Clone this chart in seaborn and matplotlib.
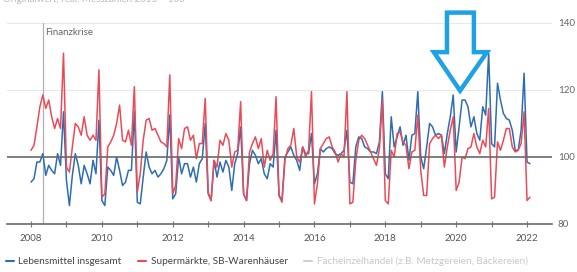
import numpy as np
import pandas as pd
import matplotlib
matplotlib.use("Agg")
import matplotlib.pyplot as plt
import seaborn as sns
from matplotlib.lines import Line2D
from matplotlib.patches import Polygon

# monthly index values (2015 = 100), Jan 2008 .. Feb 2022
lebensmittel = [
    92.5, 93.5, 98.5, 98.5, 101, 94.5, 97.5, 96, 95, 101, 97.5, 113.5,      # 2008
    93, 85.5, 94.5, 101, 97.5, 92, 97.5, 95, 92, 99, 95, 111,               # 2009
    87, 85.5, 97, 96, 94.5, 100, 96, 91.5, 92.5, 96, 96, 113.5,             # 2010
    86.5, 86, 94, 101.5, 97, 95, 96, 94, 95, 96.5, 99, 112.5,               # 2011
    87.5, 89, 100, 95, 98, 98, 94, 97, 92.5, 98, 99.5, 110,                 # 2012
    89, 87, 99, 94, 98.5, 95.5, 99, 97, 90, 98, 101, 109,                   # 2013
    89, 87, 98, 102, 100.5, 98, 99.5, 95, 93.5, 98, 97, 108,                # 2014
    88.5, 87, 100, 101.5, 103, 100.5, 99, 96, 103, 101, 101, 107,           # 2015
    92, 95, 102.5, 101.5, 102.5, 103, 102.5, 101, 100.5, 101, 102, 108,     # 2016
    92.5, 92, 103, 106, 105.5, 103, 102.5, 101.5, 101.5, 101, 104.5, 119.5, # 2017
    95, 93.5, 112, 103, 106, 109, 103.5, 106.5, 99, 106.5, 107, 119.5,      # 2018
    100, 96.5, 103, 110, 109, 106.5, 107, 106.5, 101, 107, 112, 118.5,      # 2019
    101.5, 109, 117, 117, 115, 109, 112, 107, 105, 115, 112.5, 131,         # 2020
    104, 103, 122, 117, 113, 111.5, 111, 108, 102, 102, 108, 125,           # 2021
    98.5, 98,                                                               # 2022
]
supermaerkte = [
    102, 103.5, 109, 115, 118.5, 114.5, 117, 112, 108.5, 111.5, 108.5, 131, # 2008
    97, 95.5, 103, 110, 109, 106.5, 112, 106.5, 105, 106.5, 105, 126,       # 2009
    88, 89, 103, 104.5, 106.5, 110, 115.5, 105, 104.5, 108, 103.5, 121,     # 2010
    89.5, 95, 105, 111, 111.5, 108, 108.5, 106.5, 104.5, 104, 103, 124.5,   # 2011
    89, 91.5, 105.5, 102.5, 108.5, 109, 105, 106.5, 99.5, 104, 104, 117.5,  # 2012
    89.5, 87, 99, 97, 105, 103.5, 107, 105, 97, 101.5, 102, 116.5,          # 2013
    89, 87, 101.5, 104, 106, 102.5, 105.5, 97, 102, 99, 101, 118,           # 2014
    88.5, 86.5, 99, 102.5, 103.5, 108.5, 100, 98.5, 103, 100, 102, 119.5,   # 2015
    86, 92, 102.5, 104, 105.5, 106, 103, 101.5, 98.5, 101, 100, 119.5,      # 2016
    86, 86.5, 99, 105, 106.5, 105.5, 103.5, 101.5, 99.5, 97.5, 102.5, 117,  # 2017
    87, 86, 102, 100, 107, 107.5, 104.5, 103.5, 96.5, 101.5, 102, 112.5,    # 2018
    96, 88.5, 88.5, 104, 105.5, 106.5, 105.5, 106.5, 97, 103, 108, 112,     # 2019
    90, 92.5, 100, 99.5, 102.5, 103, 107, 103, 101, 105, 103, 114.5,        # 2020
    87.5, 88, 104.5, 102, 105, 108.5, 108.5, 103, 101.5, 102, 104, 113.5,   # 2021
    87, 88,                                                                 # 2022
]
series_names = ["Lebensmittel insgesamt", "Supermärkte, SB-Warenhäuser",
                "Facheinzelhandel (z.B. Metzgereien, Bäckereien)"]
colors = ["#2f6db3", "#ea4b57", "#d0d0d0"]
year_ticks = list(range(2008, 2023, 2))
value_ticks = [80, 100, 120, 140]
krise_year = 2008.33

n = len(lebensmittel)
years = 2008 + np.arange(n) / 12
df = pd.concat([
    pd.DataFrame({"jahr": years, "wert": lebensmittel, "reihe": series_names[0]}),
    pd.DataFrame({"jahr": years, "wert": supermaerkte, "reihe": series_names[1]}),
])

sns.set_style("white")
plt.rcParams["font.family"] = ["Lato", "DejaVu Sans"]

fig = plt.figure(figsize=(5.77, 2.72), dpi=100)
ax = fig.add_axes([0.012, 0.1765, 0.945, 0.739])

for v in [120, 140]:
    ax.axhline(v, color="#e8e8e8", lw=0.8, zorder=0)
ax.axvline(krise_year, color="#b0b0b0", lw=0.9, zorder=1)

sns.lineplot(data=df, x="jahr", y="wert", hue="reihe", palette=colors[:2],
             linewidth=1.1, legend=False, ax=ax, zorder=3)
ax.axhline(100, color="#6a6a6a", lw=1.2, zorder=4)

ax.set_xlim(2007.32, 2022.71)
ax.set_ylim(80, 140)
ax.set_xlabel("")
ax.set_ylabel("")

ax.set_xticks(year_ticks)
ax.set_xticks(range(2009, 2023, 2), minor=True)
ax.set_xticklabels([str(y) for y in year_ticks])
ax.tick_params(axis="x", which="both", direction="inout", length=5, width=0.8,
               color="#777777", labelsize=7, labelcolor="#555555", pad=5,
               bottom=True)
ax.yaxis.tick_right()
ax.set_yticks(value_ticks)
ax.tick_params(axis="y", length=0, labelsize=7, labelcolor="#666666", pad=4)
for lab in ax.get_yticklabels():
    lab.set_horizontalalignment("left")

for s in ["top", "left", "right"]:
    ax.spines[s].set_visible(False)
ax.spines["bottom"].set_color("#6a6a6a")
ax.spines["bottom"].set_linewidth(1.2)

ax.text(krise_year + 0.08, 138.5, "Finanzkrise", fontsize=7, color="#666666",
        va="top", ha="left")

# highlight arrow (outline)
arrow = Polygon([(2019.74, 143.1), (2020.50, 143.1), (2020.50, 131.3),
                 (2020.87, 131.3), (2020.11, 119.8), (2019.37, 131.3),
                 (2019.74, 131.3)], closed=True, fill=False,
                edgecolor="#1ea2e4", linewidth=3.2, joinstyle="miter",
                clip_on=False, zorder=6)
ax.add_patch(arrow)

# header line, cut off at the top edge as in the source
fig.text(0.005, 1.0, "Originalwert, real, Messzahlen 2015 = 100", fontsize=7,
         color="#bbbbbb", va="center", ha="left")

handles = [Line2D([], [], color=c, lw=1.5) for c in colors]
leg = fig.legend(handles, series_names, loc="lower left", bbox_to_anchor=(0.0, 0.0),
                 ncol=3, frameon=False, fontsize=7.2, handlelength=0.8,
                 handletextpad=0.5, columnspacing=1.6, borderaxespad=0.15)
for txt, c in zip(leg.get_texts(), ["#444444", "#444444", "#c8c8c8"]):
    txt.set_color(c)

fig.savefig("out.png", dpi=100)
